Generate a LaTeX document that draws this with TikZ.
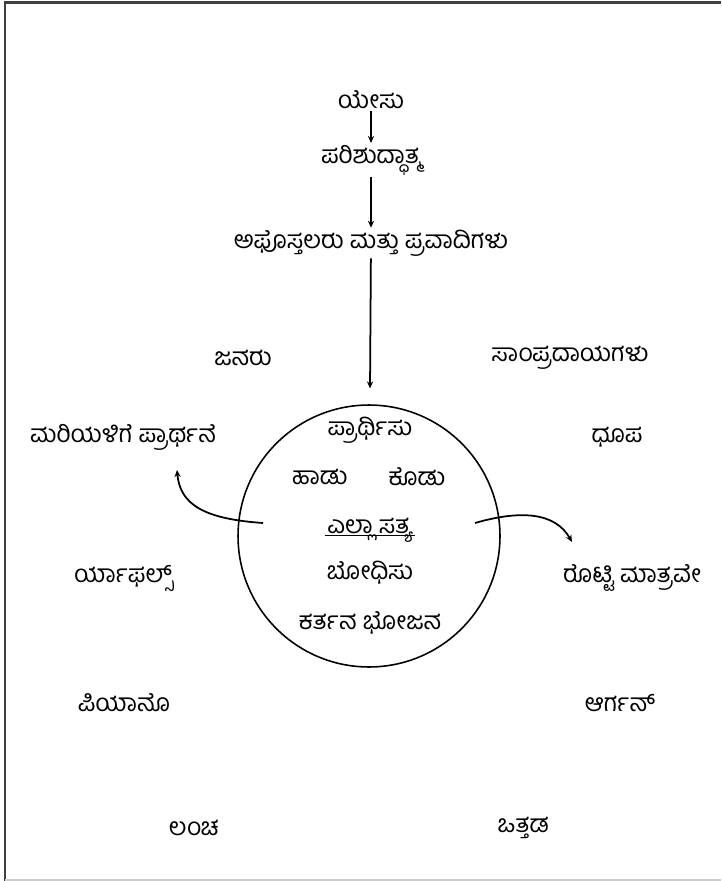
\documentclass[tikz,border=0pt]{standalone}
\usepackage{fontspec}
\newfontfamily\kanfont[Script=Kannada]{Hind Mysuru}
\usetikzlibrary{arrows.meta,positioning}

\begin{document}
\begin{tikzpicture}[x=0.02cm, y=-0.02cm,
    word/.style={font=\kanfont\fontsize{14}{16}\selectfont, inner sep=1pt},
    link/.style={line width=1pt, -{Stealth[length=4pt,width=3.5pt]}}]
    \useasboundingbox (0,0) rectangle (721,881);

    % Frame
    \draw[line width=1.7pt, black!75] (5,881) -- (5,2.5) -- (721,2.5);
    \draw[line width=0.8pt, black!20] (5,880) -- (721,880);

    % Chain from the top
    \node[word] (jesus) at (371,100) {ಯೇಸು};
    \node[word] (spirit) at (371,160) {ಪರಿಶುದ್ಧಾತ್ಮ};
    \node[word] (apostles) at (371,243) {ಅಫೊಸ್ತಲರು ಮತ್ತು ಪ್ರವಾದಿಗಳು};

    % Church circle
    \node[draw, circle, line width=0.9pt, minimum size=5.24cm, inner sep=0pt] (church) at (369,536) {};
    \node[word] (pray) at (370,430) {ಪ್ರಾರ್ಥಿಸು};
    \node[word] (sing) at (320,477) {ಹಾಡು};
    \node[word] (give) at (417,477) {ಕೊಡು};
    \node[word, anchor=base] (truth) at (370,533) {ಎಲ್ಲಾ ಸತ್ಯ};
    \node[word] (teach) at (370,573) {ಬೋಧಿಸು};
    \node[word] (supper) at (370,623) {ಕರ್ತನ ಭೋಜನ};
    \draw[line width=0.7pt] ([yshift=-1.5pt]truth.base west) -- ([yshift=-1.5pt]truth.base east);

    % Words outside
    \node[word] (people) at (243,358) {ಜನರು};
    \node[word] (traditions) at (570,358) {ಸಾಂಪ್ರದಾಯಗಳು};
    \node[word] (mary) at (123,437) {ಮರಿಯಳಿಗೆ ಪ್ರಾರ್ಥನೆ};
    \node[word] (incense) at (617,437) {ಧೂಪ};
    \node[word] (raffles) at (124,578) {ರ್ಯಾಫಲ್ಸ್};
    \node[word] (bread) at (632,578) {ರೊಟ್ಟಿ ಮಾತ್ರವೇ};
    \node[word] (piano) at (124,703) {ಪಿಯಾನೊ};
    \node[word] (organ) at (620,703) {ಆರ್ಗನ್};
    \node[word] (bribe) at (194,828) {ಲಂಚ};
    \node[word] (pressure) at (523,828) {ಒತ್ತಡ};

    % Arrows
    \draw[link] (jesus) -- (spirit);
    \draw[link] (spirit) -- (apostles);
    \draw[link, shorten >=9pt] (apostles) -- (church);

    \coordinate (lstart) at (263,523);
    \coordinate (lend) at (177,470);
    \coordinate (rstart) at (475,523);
    \coordinate (rend) at (572,542);
    \draw[link] (lstart) .. controls (205,519) and (180,505) .. (lend);
    \draw[link] (rstart) .. controls (520,510) and (555,512) .. (rend);
\end{tikzpicture}
\end{document}
